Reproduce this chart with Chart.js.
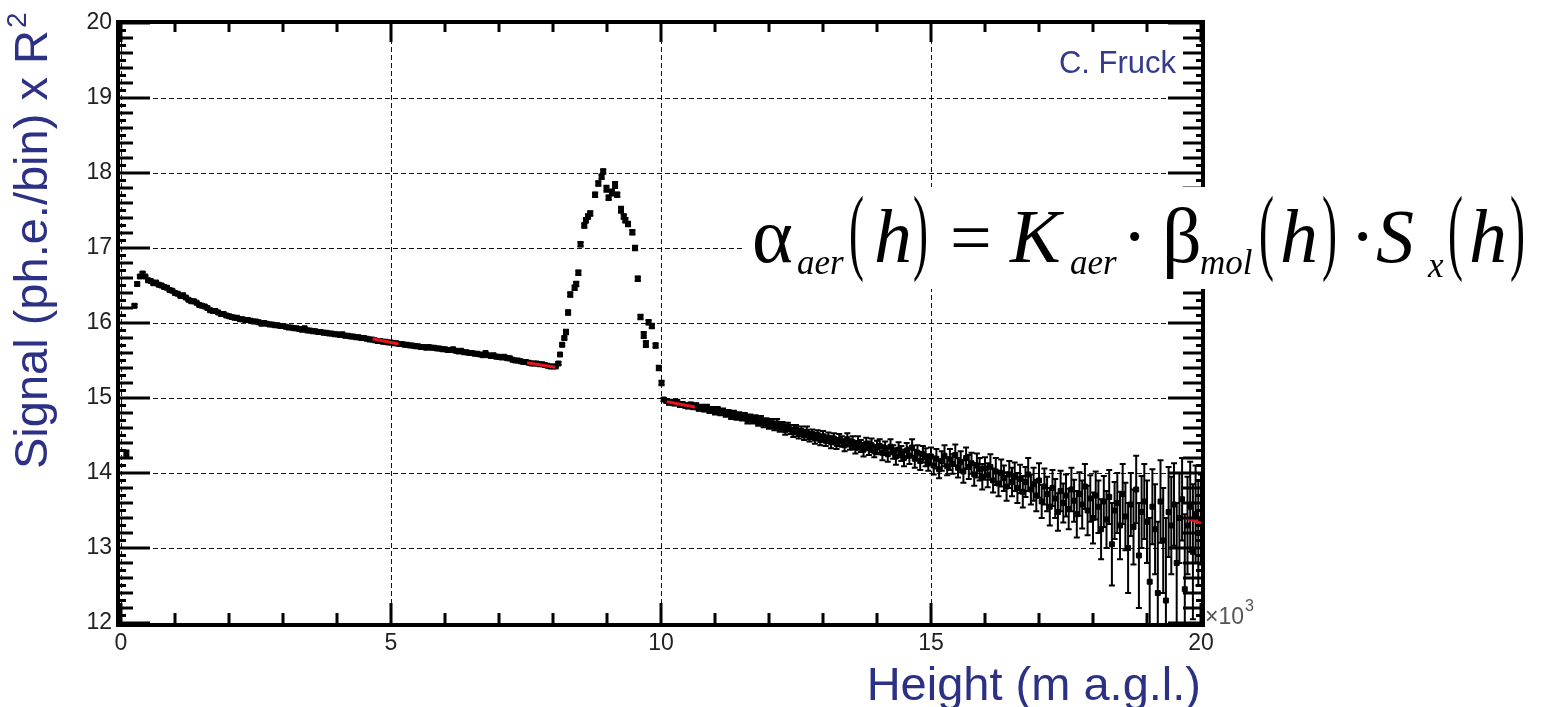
<!DOCTYPE html>
<html>
<head>
<meta charset="utf-8">
<script src="https://cdn.jsdelivr.net/npm/chart.js@4.4.1/dist/chart.umd.min.js"></script>
<style>
  html, body { margin: 0; padding: 0; background: #fff; }
</style>
</head>
<body>
<canvas id="lidar" width="1552" height="707"></canvas>
<script>
// Lidar return: range-corrected signal vs height, with a cloud layer near 9 km.
// Heights are in units of 10^3 m.

// ── data: boundary layer + free troposphere below the cloud ──────────────────
const heightsLow = [0.10, 0.25, 0.30, 0.35, 0.40, 0.45,
  0.50, 0.55, 0.60, 0.65, 0.70, 0.75, 0.80, 0.85, 0.90, 0.95, 1.00, 1.05, 1.10, 1.15, 1.20, 1.25, 1.30, 1.35, 1.40, 1.45,
  1.50, 1.55, 1.60, 1.65, 1.70, 1.75, 1.80, 1.85, 1.90, 1.95, 2.00, 2.05, 2.10, 2.15, 2.20, 2.25, 2.30, 2.35, 2.40, 2.45,
  2.50, 2.55, 2.60, 2.65, 2.70, 2.75, 2.80, 2.85, 2.90, 2.95, 3.00, 3.05, 3.10, 3.15, 3.20, 3.25, 3.30, 3.35, 3.40, 3.45,
  3.50, 3.55, 3.60, 3.65, 3.70, 3.75, 3.80, 3.85, 3.90, 3.95, 4.00, 4.05, 4.10, 4.15, 4.20, 4.25, 4.30, 4.35, 4.40, 4.45,
  4.50, 4.55, 4.60, 4.65, 4.70, 4.75, 4.80, 4.85, 4.90, 4.95, 5.00, 5.05, 5.10, 5.15, 5.20, 5.25, 5.30, 5.35, 5.40, 5.45,
  5.50, 5.55, 5.60, 5.65, 5.70, 5.75, 5.80, 5.85, 5.90, 5.95, 6.00, 6.05, 6.10, 6.15, 6.20, 6.25, 6.30, 6.35, 6.40, 6.45,
  6.50, 6.55, 6.60, 6.65, 6.70, 6.75, 6.80, 6.85, 6.90, 6.95, 7.00, 7.05, 7.10, 7.15, 7.20, 7.25, 7.30, 7.35, 7.40, 7.45,
  7.50, 7.55, 7.60, 7.65, 7.70, 7.75, 7.80, 7.85, 7.90, 7.95, 8.00, 8.05];
const signalLow = [14.26, 16.23, 16.52, 16.62, 16.66, 16.62,
  16.57, 16.56, 16.53, 16.54, 16.51, 16.50, 16.48, 16.47, 16.44, 16.43, 16.40, 16.39, 16.36, 16.37, 16.34, 16.31, 16.29, 16.29, 16.27, 16.24,
  16.23, 16.22, 16.20, 16.17, 16.16, 16.16, 16.14, 16.12, 16.12, 16.10, 16.09, 16.08, 16.07, 16.07, 16.05, 16.05, 16.04, 16.04, 16.03, 16.02,
  16.02, 16.01, 15.99, 16.00, 15.99, 15.98, 15.98, 15.97, 15.97, 15.96, 15.96, 15.95, 15.94, 15.94, 15.93, 15.93, 15.92, 15.91, 15.93, 15.90,
  15.90, 15.89, 15.89, 15.88, 15.88, 15.87, 15.87, 15.86, 15.86, 15.85, 15.85, 15.84, 15.85, 15.83, 15.83, 15.82, 15.82, 15.81, 15.81, 15.80,
  15.80, 15.79, 15.78, 15.78, 15.77, 15.76, 15.76, 15.75, 15.75, 15.74, 15.74, 15.73, 15.73, 15.72, 15.72, 15.71, 15.71, 15.70, 15.70, 15.69,
  15.69, 15.68, 15.68, 15.67, 15.68, 15.67, 15.67, 15.66, 15.66, 15.65, 15.65, 15.64, 15.64, 15.65, 15.63, 15.62, 15.63, 15.61, 15.61, 15.60,
  15.60, 15.59, 15.59, 15.58, 15.57, 15.60, 15.57, 15.56, 15.57, 15.55, 15.55, 15.54, 15.55, 15.53, 15.53, 15.51, 15.50, 15.50, 15.49, 15.48,
  15.48, 15.47, 15.46, 15.46, 15.46, 15.45, 15.45, 15.44, 15.43, 15.42, 15.42, 15.42];
const errorLow = [0.04, 0.02, 0.02, 0.02, 0.02, 0.015,
  0.015, 0.015, 0.015, 0.015, 0.015, 0.015, 0.015, 0.015, 0.01, 0.01, 0.01, 0.01, 0.01, 0.01, 0.01, 0.01, 0.01, 0.01, 0.01, 0.01,
  0.01, 0.01, 0.01, 0.01, 0.01, 0.01, 0.01, 0.01, 0.01, 0.01, 0.01, 0.01, 0.01, 0.01, 0.01, 0.01, 0.01, 0.01, 0.01, 0.01,
  0.01, 0.01, 0.01, 0.01, 0.01, 0.01, 0.01, 0.01, 0.01, 0.01, 0.01, 0.01, 0.01, 0.01, 0.01, 0.01, 0.01, 0.01, 0.01, 0.01,
  0.01, 0.01, 0.01, 0.01, 0.01, 0.01, 0.01, 0.01, 0.01, 0.01, 0.01, 0.01, 0.01, 0.01, 0.01, 0.01, 0.01, 0.01, 0.01, 0.01,
  0.01, 0.01, 0.01, 0.01, 0.01, 0.01, 0.01, 0.01, 0.01, 0.01, 0.01, 0.01, 0.01, 0.01, 0.01, 0.01, 0.01, 0.01, 0.01, 0.01,
  0.01, 0.01, 0.01, 0.01, 0.01, 0.01, 0.01, 0.01, 0.01, 0.01, 0.01, 0.01, 0.01, 0.01, 0.01, 0.01, 0.01, 0.01, 0.01, 0.01,
  0.01, 0.01, 0.01, 0.01, 0.01, 0.01, 0.01, 0.01, 0.01, 0.01, 0.01, 0.01, 0.01, 0.01, 0.01, 0.01, 0.01, 0.01, 0.01, 0.01,
  0.01, 0.01, 0.01, 0.01, 0.01, 0.01, 0.01, 0.01, 0.01, 0.01, 0.01, 0.01];

// ── data: cloud layer ────────────────────────────────────────────────────────
const heightsCloud = [8.10, 8.13, 8.17, 8.21, 8.24, 8.28, 8.32, 8.40, 8.43, 8.47, 8.51, 8.58, 8.61, 8.65, 8.69, 8.78, 8.84, 8.90, 8.93, 8.99,
  9.03, 9.09, 9.15, 9.19, 9.26, 9.31, 9.34, 9.39, 9.47, 9.52, 9.57, 9.62, 9.68, 9.72, 9.77, 9.83, 9.90, 9.96, 10.01];
const signalCloud = [15.46, 15.58, 15.71, 15.80, 15.88, 16.14, 16.38, 16.47, 16.52, 16.67, 17.05, 17.30, 17.37, 17.42, 17.46, 17.71, 17.86, 17.95, 18.02, 17.79,
  17.67, 17.74, 17.84, 17.71, 17.51, 17.42, 17.37, 17.32, 17.21, 17.00, 16.59, 16.08, 15.84, 15.72, 16.01, 15.96, 15.70, 15.40, 15.20];
const errorCloud = [0.02, 0.02, 0.02, 0.02, 0.03, 0.03, 0.03, 0.03, 0.03, 0.03, 0.03, 0.03, 0.03, 0.03, 0.03, 0.03, 0.03, 0.03, 0.03, 0.04,
  0.03, 0.04, 0.04, 0.03, 0.04, 0.03, 0.03, 0.03, 0.03, 0.03, 0.03, 0.03, 0.04, 0.04, 0.03, 0.03, 0.03, 0.03, 0.03];

// ── data: above the cloud ────────────────────────────────────────────────────
const heightsHigh = [
  10.05, 10.10, 10.15, 10.20, 10.25, 10.30, 10.35, 10.40, 10.45, 10.50, 10.55, 10.60, 10.65, 10.70, 10.75, 10.80, 10.85, 10.90, 10.95, 11.00,
  11.05, 11.10, 11.15, 11.20, 11.25, 11.30, 11.35, 11.40, 11.45, 11.50, 11.55, 11.60, 11.65, 11.70, 11.75, 11.80, 11.85, 11.90, 11.95, 12.00,
  12.05, 12.10, 12.15, 12.20, 12.25, 12.30, 12.35, 12.40, 12.45, 12.50, 12.55, 12.60, 12.65, 12.70, 12.75, 12.80, 12.85, 12.90, 12.95, 13.00,
  13.05, 13.10, 13.15, 13.20, 13.25, 13.30, 13.35, 13.40, 13.45, 13.50, 13.55, 13.60, 13.65, 13.70, 13.75, 13.80, 13.85, 13.90, 13.95, 14.00,
  14.05, 14.10, 14.15, 14.20, 14.25, 14.30, 14.35, 14.40, 14.45, 14.50, 14.55, 14.60, 14.65, 14.70, 14.75, 14.80, 14.85, 14.90, 14.95, 15.00,
  15.05, 15.10, 15.15, 15.20, 15.25, 15.30, 15.35, 15.40, 15.45, 15.50, 15.55, 15.60, 15.65, 15.70, 15.75, 15.80, 15.85, 15.90, 15.95, 16.00,
  16.05, 16.10, 16.15, 16.20, 16.25, 16.30, 16.35, 16.40, 16.45, 16.50, 16.55, 16.60, 16.65, 16.70, 16.75, 16.80, 16.85, 16.90, 16.95, 17.00,
  17.05, 17.10, 17.15, 17.20, 17.25, 17.30, 17.35, 17.40, 17.45, 17.50, 17.55, 17.60, 17.65, 17.70, 17.75, 17.80, 17.85, 17.90, 17.95, 18.00,
  18.05, 18.10, 18.15, 18.20, 18.25, 18.30, 18.35, 18.40, 18.45, 18.50, 18.55, 18.60, 18.65, 18.70, 18.75, 18.80, 18.85, 18.90, 18.95, 19.00,
  19.05, 19.10, 19.15, 19.20, 19.25, 19.30, 19.35, 19.40, 19.45, 19.50, 19.55, 19.60, 19.65, 19.70, 19.75, 19.80, 19.85, 19.90, 19.95, 20.00];
const signalHigh = [
  14.98, 14.96, 14.94, 14.95, 14.93, 14.95, 14.91, 14.92, 14.90, 14.89, 14.91, 14.88, 14.90, 14.86, 14.88, 14.85, 14.87, 14.83, 14.85, 14.82,
  14.84, 14.80, 14.82, 14.79, 14.81, 14.76, 14.79, 14.75, 14.77, 14.74, 14.76, 14.71, 14.74, 14.70, 14.72, 14.67, 14.71, 14.66, 14.69, 14.64,
  14.67, 14.62, 14.66, 14.60, 14.63, 14.57, 14.62, 14.58, 14.54, 14.59, 14.52, 14.56, 14.50, 14.55, 14.48, 14.52, 14.46, 14.51, 14.44, 14.49,
  14.43, 14.47, 14.41, 14.46, 14.39, 14.44, 14.42, 14.37, 14.45, 14.38, 14.41, 14.34, 14.40, 14.36, 14.31, 14.39, 14.33, 14.37, 14.29, 14.34,
  14.36, 14.27, 14.33, 14.25, 14.35, 14.28, 14.22, 14.31, 14.26, 14.20, 14.30, 14.23, 14.34, 14.19, 14.27, 14.16, 14.25, 14.21, 14.14, 14.22,
  14.10, 14.19, 14.05, 14.16, 14.23, 14.09, 14.18, 14.12, 14.24, 14.07, 14.15, 14.02, 14.20, 14.08, 14.13, 13.98, 14.10, 14.05, 13.95, 14.06,
  13.97, 14.08, 13.90, 14.02, 13.86, 14.00, 13.93, 13.82, 13.98, 13.88, 13.95, 13.80, 13.92, 13.75, 13.88, 13.98, 13.78, 13.85, 13.70, 13.90,
  13.62, 13.82, 13.72, 13.55, 13.80, 13.66, 13.48, 13.76, 13.60, 13.70, 13.52, 13.78, 13.63, 13.45, 13.72, 13.58, 13.82, 13.50, 13.66, 13.40,
  13.70, 13.55, 13.25, 13.62, 13.38, 13.68, 13.05, 13.50, 13.60, 13.30, 13.72, 13.42, 13.00, 13.58, 13.28, 13.78, 12.90, 13.48, 13.62, 13.35,
  12.55, 13.55, 13.25, 12.40, 13.62, 13.10, 12.30, 13.48, 13.30, 13.58, 12.80, 13.40, 13.65, 12.45, 13.30, 13.55, 12.95, 13.45, 13.20, 13.38];
const errorHigh = [
  0.02, 0.02, 0.03, 0.02, 0.03, 0.02, 0.03, 0.02, 0.03, 0.03, 0.03, 0.03, 0.03, 0.03, 0.03, 0.03, 0.04, 0.03, 0.03, 0.04,
  0.04, 0.03, 0.04, 0.04, 0.03, 0.04, 0.04, 0.04, 0.04, 0.04, 0.04, 0.05, 0.04, 0.04, 0.05, 0.04, 0.05, 0.05, 0.04, 0.05,
  0.05, 0.05, 0.06, 0.05, 0.05, 0.06, 0.05, 0.06, 0.06, 0.05, 0.06, 0.06, 0.06, 0.07, 0.06, 0.06, 0.07, 0.06, 0.07, 0.07,
  0.07, 0.07, 0.08, 0.07, 0.07, 0.08, 0.07, 0.08, 0.08, 0.07, 0.08, 0.08, 0.09, 0.08, 0.09, 0.08, 0.09, 0.09, 0.08, 0.09,
  0.09, 0.10, 0.09, 0.10, 0.10, 0.09, 0.11, 0.10, 0.10, 0.11, 0.10, 0.11, 0.11, 0.12, 0.10, 0.12, 0.11, 0.12, 0.11, 0.12,
  0.12, 0.13, 0.12, 0.13, 0.14, 0.12, 0.14, 0.13, 0.14, 0.13, 0.14, 0.15, 0.14, 0.16, 0.14, 0.15, 0.16, 0.15, 0.17, 0.15,
  0.16, 0.17, 0.16, 0.18, 0.17, 0.18, 0.17, 0.19, 0.18, 0.19, 0.19, 0.20, 0.19, 0.21, 0.20, 0.22, 0.20, 0.22, 0.21, 0.23,
  0.22, 0.24, 0.23, 0.25, 0.24, 0.26, 0.25, 0.27, 0.26, 0.28, 0.27, 0.29, 0.28, 0.31, 0.29, 0.32, 0.30, 0.33, 0.31, 0.34,
  0.32, 0.35, 0.40, 0.34, 0.38, 0.36, 0.55, 0.38, 0.40, 0.45, 0.40, 0.45, 0.60, 0.42, 0.50, 0.45, 0.70, 0.48, 0.50, 0.55,
  0.85, 0.50, 0.60, 0.95, 0.55, 0.70, 1.10, 0.60, 0.65, 0.55, 0.80, 0.60, 0.55, 1.00, 0.65, 0.60, 0.90, 0.65, 0.70, 0.60];

// ── red fit segments (start/end of each reference-range fit) ────────────────
const fitStartX = [4.66, 7.52, 10.11, 19.70];
const fitEndX   = [5.14, 8.04, 10.63, 20.00];
const fitStartY = [15.79, 15.47, 14.95, 13.41];
const fitEndY   = [15.72, 15.41, 14.88, 13.33];

// ── axis tick labels ─────────────────────────────────────────────────────────
const xTickValues = [0, 5, 10, 15, 20];
const yTickValues = [12, 13, 14, 15, 16, 17, 18, 19, 20];

const heights = [...heightsLow, ...heightsCloud, ...heightsHigh];
const signal  = [...signalLow, ...signalCloud, ...signalHigh];
const errors  = [...errorLow, ...errorCloud, ...errorHigh];

const NAVY = "#2d3185";
const SANS = '"Liberation Sans", Arial, sans-serif';
const SERIF = '"Liberation Serif", "Times New Roman", serif';

// vertical error bars with small caps, drawn through the chart scales
const errorBars = {
  id: "errorBars",
  beforeDatasetsDraw(chart) {
    const { ctx, chartArea: a, scales: { x, y } } = chart;
    ctx.save();
    ctx.beginPath();
    ctx.rect(a.left, a.top, a.right - a.left, a.bottom - a.top);
    ctx.clip();
    ctx.strokeStyle = "#000";
    ctx.lineWidth = 2;
    heights.forEach((h, i) => {
      const px = x.getPixelForValue(h);
      const top = y.getPixelForValue(signal[i] + errors[i]);
      const bot = y.getPixelForValue(signal[i] - errors[i]);
      ctx.beginPath();
      ctx.moveTo(px, top); ctx.lineTo(px, bot);
      ctx.moveTo(px - 3, top); ctx.lineTo(px + 3, top);
      ctx.moveTo(px - 3, bot); ctx.lineTo(px + 3, bot);
      ctx.stroke();
    });
    ctx.restore();
  },
};

// ROOT-style frame with inward ticks
const rootFrame = {
  id: "rootFrame",
  afterDatasetsDraw(chart) {
    const { ctx, chartArea: a, scales: { x, y } } = chart;
    const L = a.left - 3, R = a.right + 2, T = a.top - 1, B = a.bottom + 2;
    ctx.save();
    ctx.strokeStyle = "#000";
    ctx.lineWidth = 3;
    ctx.beginPath();
    for (let i = 0; i <= 80; i++) {
      const py = y.getPixelForValue(12 + i / 10);
      const lenL = i % 10 === 0 ? 32 : i % 2 === 0 ? 15 : 8;
      const lenR = i % 10 === 0 ? 35 : i % 2 === 0 ? 20 : 7;
      ctx.moveTo(L, py); ctx.lineTo(L + lenL, py);
      ctx.moveTo(R, py); ctx.lineTo(R - lenR, py);
    }
    for (let i = 0; i <= 20; i++) {
      const px = x.getPixelForValue(i);
      const major = i % 5 === 0;
      ctx.moveTo(px, B); ctx.lineTo(px, B - (major ? 22 : 12));
      ctx.moveTo(px, T); ctx.lineTo(px, T + (major ? 20 : 10));
    }
    ctx.stroke();
    ctx.lineWidth = 4;
    ctx.strokeRect(L, T, R - L, B - T);
    ctx.restore();
  },
};

// formula glyphs: left x and baseline y of each piece
const formulaPieces = [
  { t: "\u03b1", x: 752, y: 262, f: "78px " + SERIF },
  { t: "aer", x: 797, y: 274, f: "italic 35px " + SERIF },
  { t: "(", x: 849, y: 262, f: "paren" },
  { t: "h", x: 874, y: 262, f: "italic 76px " + SERIF },
  { t: ")", x: 913, y: 262, f: "paren" },
  { t: "=", x: 950, y: 262, f: "74px " + SERIF },
  { t: "K", x: 1010, y: 262, f: "italic 76px " + SERIF },
  { t: "aer", x: 1070, y: 274, f: "italic 35px " + SERIF },
  { t: "\u00b7", x: 1122, y: 262, f: "76px " + SERIF },
  { t: "\u03b2", x: 1162, y: 262, f: "78px " + SERIF },
  { t: "mol", x: 1200, y: 274, f: "italic 35px " + SERIF },
  { t: "(", x: 1259, y: 262, f: "paren" },
  { t: "h", x: 1280, y: 262, f: "italic 76px " + SERIF },
  { t: ")", x: 1322, y: 262, f: "paren" },
  { t: "\u00b7", x: 1350, y: 262, f: "76px " + SERIF },
  { t: "S", x: 1376, y: 262, f: "italic 76px " + SERIF },
  { t: "x", x: 1428, y: 277, f: "italic 35px " + SERIF },
  { t: "(", x: 1448, y: 262, f: "paren" },
  { t: "h", x: 1469, y: 262, f: "italic 76px " + SERIF },
  { t: ")", x: 1510, y: 262, f: "paren" },
];

const overlayText = {
  id: "overlayText",
  afterDraw(chart) {
    const { ctx, chartArea: a } = chart;
    ctx.save();
    ctx.textBaseline = "alphabetic";

    // y title, rotated
    ctx.save();
    ctx.translate(47, 469);
    ctx.rotate(-Math.PI / 2);
    ctx.fillStyle = NAVY;
    ctx.font = "47px " + SANS;
    ctx.textAlign = "left";
    const main = "Signal (ph.e./bin) x R";
    ctx.fillText(main, 0, 0);
    const w = ctx.measureText(main).width;
    ctx.font = "28px " + SANS;
    ctx.fillText("2", w + 2, -21);
    ctx.restore();

    // x title
    ctx.fillStyle = NAVY;
    ctx.font = "47px " + SANS;
    ctx.textAlign = "right";
    ctx.fillText("Height (m a.g.l.)", a.right, 700);

    // x10^3 exponent
    ctx.fillStyle = "#555";
    ctx.textAlign = "left";
    ctx.font = "23px " + SANS;
    ctx.fillText("\u00d710", a.right + 4, 624);
    const ew = ctx.measureText("\u00d710").width;
    ctx.font = "16px " + SANS;
    ctx.fillText("3", a.right + 5 + ew, 611);

    // author tag
    ctx.fillStyle = "#363a8f";
    ctx.font = "31px " + SANS;
    ctx.textAlign = "right";
    ctx.fillText("C. Fruck", 1176, 73);

    // formula box
    ctx.fillStyle = "#fff";
    ctx.fillRect(743, 187, 1552 - 743, 102);
    ctx.fillStyle = "#000";
    ctx.textAlign = "left";
    formulaPieces.forEach(p => {
      if (p.f === "paren") {
        ctx.save();
        ctx.translate(p.x, p.y);
        ctx.scale(0.75, 1.6);
        ctx.font = "60px " + SERIF;
        ctx.fillText(p.t, 0, 0);
        ctx.restore();
      } else {
        ctx.font = p.f;
        ctx.fillText(p.t, p.x, p.y);
      }
    });
    ctx.restore();
  },
};

const fitDatasets = fitStartX.map((x0, i) => ({
  type: "line",
  data: [{ x: x0, y: fitStartY[i] }, { x: fitEndX[i], y: fitEndY[i] }],
  borderColor: "#e8141c",
  borderWidth: 3,
  pointRadius: 0,
  showLine: true,
  order: 0,
}));

new Chart(document.getElementById("lidar").getContext("2d"), {
  type: "scatter",
  data: {
    datasets: [
      {
        label: "Signal",
        data: heights.map((h, i) => ({ x: h, y: signal[i] })),
        pointStyle: "rect",
        pointRadius: 3.5,
        backgroundColor: "#000",
        borderColor: "#000",
        borderWidth: 1,
        order: 1,
      },
      ...fitDatasets,
    ],
  },
  options: {
    responsive: false,
    animation: false,
    layout: { padding: { top: 23, right: 351, left: 0, bottom: 0 } },
    plugins: { legend: { display: false }, tooltip: { enabled: false } },
    scales: {
      x: {
        type: "linear",
        min: 0,
        max: 20,
        afterBuildTicks: s => { s.ticks = xTickValues.map(v => ({ value: v })); },
        afterFit: s => { s.height = 84; },
        grid: { color: "#111", lineWidth: 1, drawTicks: false },
        border: { display: false, dash: [5, 3] },
        ticks: { padding: 7, color: "#222", maxRotation: 0, autoSkip: false, font: { family: SANS, size: 23 } },
      },
      y: {
        type: "linear",
        min: 12,
        max: 20,
        afterBuildTicks: s => { s.ticks = yTickValues.map(v => ({ value: v })); },
        afterFit: s => { s.width = 121; },
        grid: { color: "#111", lineWidth: 1, drawTicks: false },
        border: { display: false, dash: [5, 3] },
        ticks: { padding: 9, color: "#222", autoSkip: false, font: { family: SANS, size: 23 } },
      },
    },
  },
  plugins: [errorBars, rootFrame, overlayText],
});
</script>
</body>
</html>
